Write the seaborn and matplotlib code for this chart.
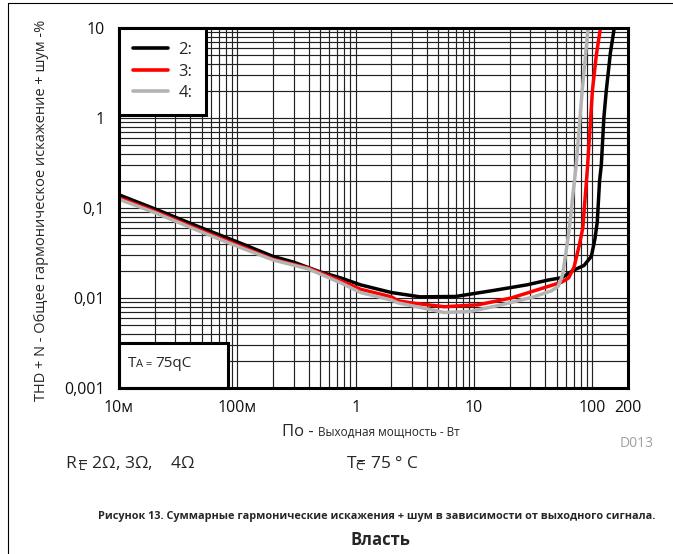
import numpy as np
import pandas as pd
import matplotlib
matplotlib.use("Agg")
import matplotlib.pyplot as plt
import seaborn as sns
from matplotlib.patches import Rectangle
from matplotlib.lines import Line2D
from matplotlib.ticker import FixedLocator, FixedFormatter, LogLocator, NullFormatter

# ---------------- data ----------------
p_2ohm = [0.01, 0.02, 0.05, 0.1, 0.2, 0.3, 0.5, 0.75, 1.1, 2.0, 3.5, 7.0, 15, 28, 42,
          55, 70, 85, 98, 105, 110, 115, 119, 125, 131, 142, 153]
thd_2ohm = [0.14, 0.098, 0.06, 0.042, 0.029, 0.025, 0.0195, 0.0167, 0.014, 0.0115, 0.0103,
            0.0104, 0.0122, 0.014, 0.0158, 0.0168, 0.0205, 0.023, 0.029, 0.045, 0.07, 0.2,
            0.3, 1.0, 2.0, 5.3, 10]

p_3ohm = [0.01, 0.02, 0.05, 0.1, 0.2, 0.4, 0.75, 1.1, 2.0, 2.3, 3.0, 5.6, 10.8, 20.6, 39,
          55, 63, 70, 78, 83, 91, 100, 108, 117]
thd_3ohm = [0.13, 0.092, 0.056, 0.039, 0.027, 0.0215, 0.0155, 0.0125, 0.0103, 0.0093, 0.0088,
            0.0080, 0.0084, 0.0100, 0.013, 0.015, 0.0167, 0.022, 0.04, 0.06, 0.286, 2.0, 5.0, 10]

p_4ohm = [0.01, 0.02, 0.05, 0.1, 0.2, 0.4, 0.75, 1.1, 2.0, 2.3, 3.0, 5.6, 9.4, 17, 32, 45,
          51.5, 56, 60, 64, 68, 73, 82, 92]
thd_4ohm = [0.125, 0.089, 0.054, 0.0375, 0.0265, 0.021, 0.0147, 0.0115, 0.0095, 0.0088, 0.0082,
            0.0069, 0.0071, 0.0084, 0.0103, 0.012, 0.0135, 0.018, 0.033, 0.06, 0.13, 0.3, 2.0, 10]

series_labels = ["2:", "3:", "4:"]
series_colors = ["#000000", "#ff0000", "#b3b3b3"]

x_ticks = [0.01, 0.1, 1, 10, 100, 200]
x_tick_labels = ["10м", "100м", "1", "10", "100", "200"]
y_ticks = [0.001, 0.01, 0.1, 1, 10]
y_tick_labels = ["0,001", "0,01", "0,1", "1", "10"]

# ---------------- styling ----------------
sns.set_style("white")
plt.rcParams['font.family'] = ['Open Sans', 'DejaVu Sans']
plt.rcParams['mathtext.fontset'] = 'custom'
plt.rcParams['mathtext.rm'] = 'Open Sans'
plt.rcParams['mathtext.it'] = 'Open Sans'
plt.rcParams['mathtext.bf'] = 'Open Sans:bold'

W, H = 673, 554
fig = plt.figure(figsize=(W / 100, H / 100), dpi=100)
L, R, T, B = 119, 628, 28, 388
ax = fig.add_axes([L / W, 1 - B / H, (R - L) / W, (B - T) / H])

df = pd.concat([
    pd.DataFrame({"P": p_2ohm, "THD": thd_2ohm, "series": series_labels[0]}),
    pd.DataFrame({"P": p_3ohm, "THD": thd_3ohm, "series": series_labels[1]}),
    pd.DataFrame({"P": p_4ohm, "THD": thd_4ohm, "series": series_labels[2]}),
], ignore_index=True)

ax.set_xscale("log")
ax.set_yscale("log")
sns.lineplot(data=df, x="P", y="THD", hue="series", hue_order=series_labels,
             palette=dict(zip(series_labels, series_colors)), estimator=None,
             sort=False, linewidth=2.5, legend=False, ax=ax, zorder=4)

ax.set_xlim(0.01, 200)
ax.set_ylim(0.001, 10)
ax.xaxis.set_major_locator(FixedLocator(x_ticks))
ax.xaxis.set_major_formatter(FixedFormatter(x_tick_labels))
ax.yaxis.set_major_locator(FixedLocator(y_ticks))
ax.yaxis.set_major_formatter(FixedFormatter(y_tick_labels))
ax.xaxis.set_minor_locator(LogLocator(base=10, subs=np.arange(2, 10), numticks=30))
ax.yaxis.set_minor_locator(LogLocator(base=10, subs=np.arange(2, 10), numticks=30))
ax.xaxis.set_minor_formatter(NullFormatter())
ax.yaxis.set_minor_formatter(NullFormatter())
ax.tick_params(which="both", length=0)
ax.tick_params(axis="x", labelsize=11.5, pad=9, colors="#111111")
ax.tick_params(axis="y", labelsize=11.5, pad=10, colors="#111111")
ax.set_xlabel("")
ax.set_ylabel("")
ax.grid(True, which="both", color="#222222", linewidth=0.85)
ax.set_axisbelow(True)
for s in ax.spines.values():
    s.set_visible(True)
    s.set_color("black")
    s.set_linewidth(2.2)
    s.set_zorder(6)

# legend
handles = [Line2D([], [], color=c, lw=2.6) for c in series_colors]
leg = ax.legend(handles, series_labels, loc="upper left", bbox_to_anchor=(0, 1),
                borderaxespad=0, fancybox=False, edgecolor="black", framealpha=1,
                fontsize=12, handlelength=2.1, handletextpad=0.6, labelspacing=0.33,
                borderpad=0.85)
leg.get_frame().set_linewidth(2.2)
leg.set_zorder(7)

# TA box
ax.add_patch(Rectangle((0, 0), (228 - L) / (R - L), (B - 343) / (B - T),
                       transform=ax.transAxes, facecolor="white", edgecolor="black",
                       linewidth=2.2, zorder=5, clip_on=False))

fig.canvas.draw()
renderer = fig.canvas.get_renderer()


def txt(x, y, s, size, **kw):
    return fig.text(x / W, 1 - y / H, s, fontsize=size, va="baseline", **kw)


def chain(x, y, parts):
    for s, size, dy in parts:
        t = txt(x, y + dy, s, size, ha="left", zorder=8)
        x += t.get_window_extent(renderer).width
    return x


chain(128, 367, [("T", 11, 0), ("A = ", 8, 0), ("75qC", 11, 0)])

# y label
fig.text(42 / W, 1 - 210 / H, "THD + N - Общее гармоническое искажение + шум -%",
         rotation=90, ha="center", va="center", fontsize=10.5)

# x label
chain(282, 436, [("По - ", 12, 0), ("Выходная мощность - Вт", 8.5, 0)])
txt(637, 447, "D013", 10, ha="center", color="#a0a0a0")

# conditions (subscript drawn under the "=" as in the reference)
txt(65, 468, r"R$\,_{\mathrm{L}}\!\!\!$= 2Ω, 3Ω,    4Ω", 12.5, ha="left")
txt(346, 468, r"T$_{\mathrm{C}}\!\!\!$= 75 ° C", 12.5, ha="left")

# caption
txt(377, 519, "Рисунок 13. Суммарные гармонические искажения + шум в зависимости от выходного сигнала.",
    7.8, ha="center", fontweight="bold")
txt(381, 545, "Власть", 12, ha="center", fontweight="bold")

# outer frame (left and top edges)
fig.add_artist(Line2D([8 / W, 8 / W], [0, 1 - 2.5 / H], transform=fig.transFigure,
                      color="black", lw=0.8))
fig.add_artist(Line2D([8 / W, 1], [1 - 2.5 / H, 1 - 2.5 / H], transform=fig.transFigure,
                      color="black", lw=0.8))

fig.savefig("out.png", dpi=100)
